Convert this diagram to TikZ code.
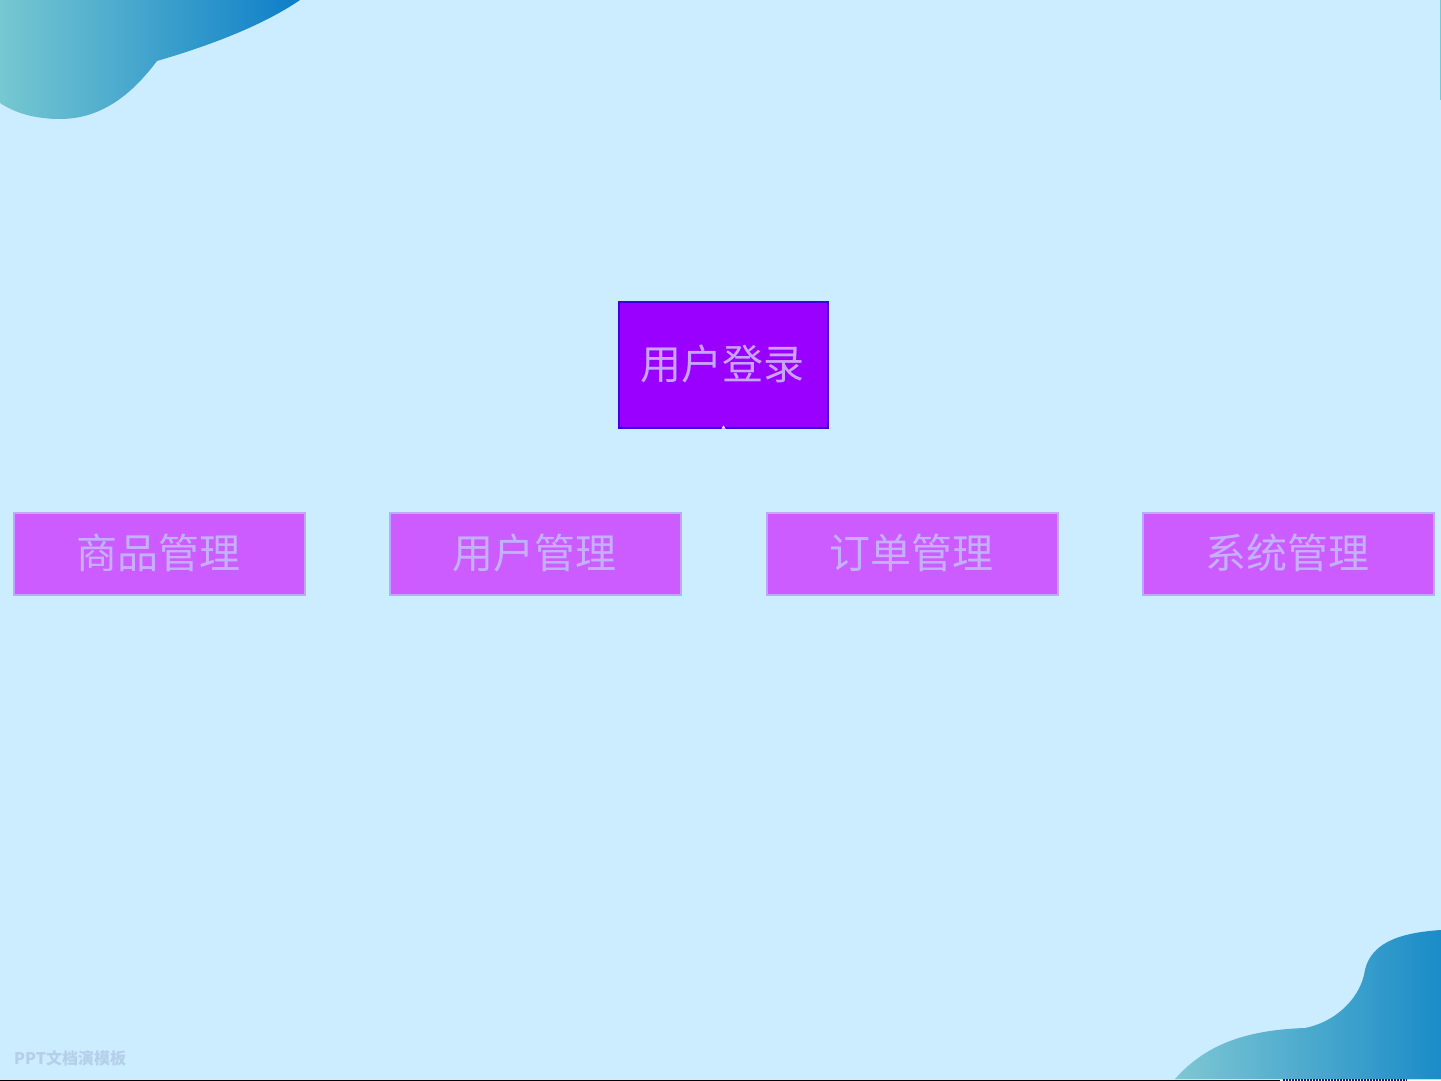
\documentclass[tikz,border=0pt]{standalone}
\usepackage{fontspec}
\newfontfamily\cjk{Noto Sans CJK SC}
\usetikzlibrary{positioning}
\definecolor{pagebg}{HTML}{CCECFF}
\definecolor{loginfill}{HTML}{9900FF}
\definecolor{loginedge}{HTML}{3A00E0}
\definecolor{loginink}{HTML}{C9A4FF}
\definecolor{modfill}{HTML}{CC5CFF}
\definecolor{modedge}{HTML}{BFA6FF}
\definecolor{modink}{HTML}{C4B0FF}
\definecolor{markink}{HTML}{B4CFEA}
\definecolor{cornerlight}{HTML}{76C8D1}
\definecolor{cornerdark}{HTML}{0C7EC8}
\definecolor{cornerlow}{HTML}{7EC7D3}
\definecolor{cornerhigh}{HTML}{1A8CC8}
\definecolor{stripink}{HTML}{1E146E}
\tikzset{
  login/.style = {draw = loginedge, line width = 2pt, fill = loginfill, text = loginink,
    minimum width = 209pt, minimum height = 126pt, inner sep = 0pt, font = \cjk\fontsize{41}{41}\selectfont},
  module/.style = {draw = modedge, line width = 2pt, fill = modfill, text = modink,
    minimum width = 291pt, minimum height = 82pt, inner sep = 0pt, font = \cjk\fontsize{41}{41}\selectfont}
}
\begin{document}
\begin{tikzpicture}[x = 1pt, y = -1pt]
\fill[pagebg] (0, 0) rectangle (1441, 1081);
\useasboundingbox (0, 0) rectangle (1441, 1081);

% corners
\shade[left color = cornerlight, right color = cornerdark]
  (0, 0) -- (300, 0) .. controls (265, 24) and (215, 44) .. (157, 61)
  .. controls (135, 90) and (105, 119) .. (60, 119)
  .. controls (35, 119) and (15, 113) .. (0, 103) -- cycle;
\shade[left color = cornerlow, right color = cornerhigh]
  (1175, 1079) .. controls (1205, 1045) and (1245, 1030) .. (1305, 1028)
  .. controls (1335, 1022) and (1358, 1000) .. (1364, 975)
  .. controls (1368, 945) and (1395, 933) .. (1441, 930) -- (1441, 1079) -- cycle;

\node[login] (L) at (723.5, 365) {\hspace{-2pt}\raisebox{5pt}{用户登录}};
\node[module] (M1) at (159, 553.5) {\hspace{-2pt}\raisebox{5pt}{商品管理}};
\node[module] (M2) at (535.5, 553.5) {\hspace{-2pt}\raisebox{5pt}{用户管理}};
\node[module] (M3) at (912, 553.5) {\hspace{-2pt}\raisebox{5pt}{订单管理}};
\node[module] (M4) at (1288, 553.5) {\hspace{-2pt}\raisebox{5pt}{系统管理}};
\node[text = markink, font = \cjk\bfseries\fontsize{16}{16}\selectfont, inner sep = 0pt, anchor = west] (W) at (14, 1058.5) {PPT文档演模板};

% edge marks
\fill[white] (721.5, 428.5) -- (725.5, 428.5) -- (723.5, 425.5) -- cycle;
\fill[black] (0, 1079.5) rectangle (1280, 1081);
\fill[white] (1280, 1079.5) rectangle (1441, 1081);
\draw[stripink, line width = 1.5pt, dash pattern = on 2pt off 1pt] (1283, 1080.2) -- (1407, 1080.2);
\fill[cornerlight] (1440, 0) rectangle (1441, 100);
\end{tikzpicture}
\end{document}
